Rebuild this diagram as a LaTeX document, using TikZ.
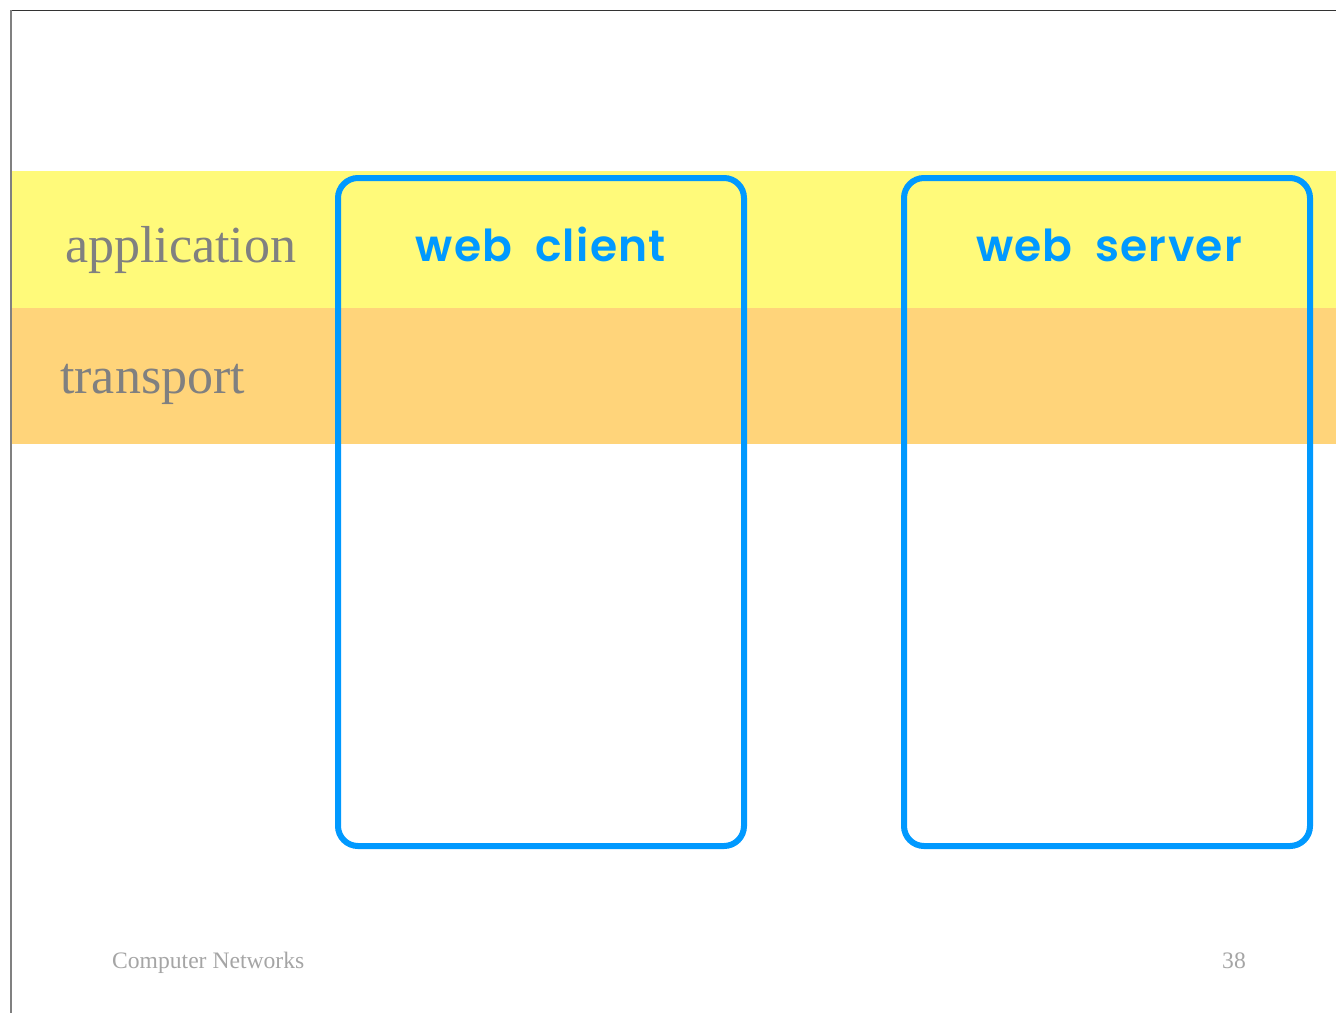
\documentclass[tikz,border=0pt]{standalone}
\usepackage{fontspec}
\setmainfont{Liberation Serif}
\newfontfamily\labelfont{Poppins}[BoldFont={Poppins SemiBold}, LetterSpace=3, WordSpace=1.9]
\definecolor{bandyellow}{RGB}{255,250,122}
\definecolor{bandorange}{RGB}{255,212,122}
\definecolor{boxblue}{RGB}{0,153,255}
\definecolor{layergray}{RGB}{128,128,128}
\definecolor{footgray}{RGB}{165,165,165}
\tikzset{
  hostbox/.style={draw=boxblue, line width=6pt, rounded corners=20pt},
  layerlabel/.style={anchor=base west, inner sep=0pt, text=layergray, font=\fontsize{52}{60}\selectfont},
  hostlabel/.style={anchor=base, inner sep=0pt, text=boxblue, font=\labelfont\bfseries\fontsize{44}{52}\selectfont},
  footer/.style={anchor=base west, inner sep=0pt, text=footgray, font=\fontsize{23.6}{28}\selectfont}
}
\begin{document}
\begin{tikzpicture}[x=1pt,y=-1pt]
\useasboundingbox (0,0) rectangle (1336,1013);
\fill[white] (0,0) rectangle (1336,1013);
% bands
\fill[bandyellow] (11,171) rectangle (1336,308);
\fill[bandorange] (11,308) rectangle (1336,444);
% frame
\draw[black!80, line width=1.5pt] (10,10.5) -- (1336,10.5);
\draw[black!50, line width=2pt] (11,10) -- (11,1013);
% host boxes
\draw[hostbox] (338,178) rectangle (744,846);
\draw[hostbox] (904,178) rectangle (1310,846);
% labels
\node[layerlabel] (app) at (65,262) {application};
\node[layerlabel] (trans) at (60,393) {transport};
\node[hostlabel] (client) at (541,261) {web client};
\node[hostlabel] (server) at (1109,261) {web server};
\node[footer] (foot) at (112,968) {Computer Networks};
\node[footer] (page) at (1222,968) {38};
\end{tikzpicture}
\end{document}
